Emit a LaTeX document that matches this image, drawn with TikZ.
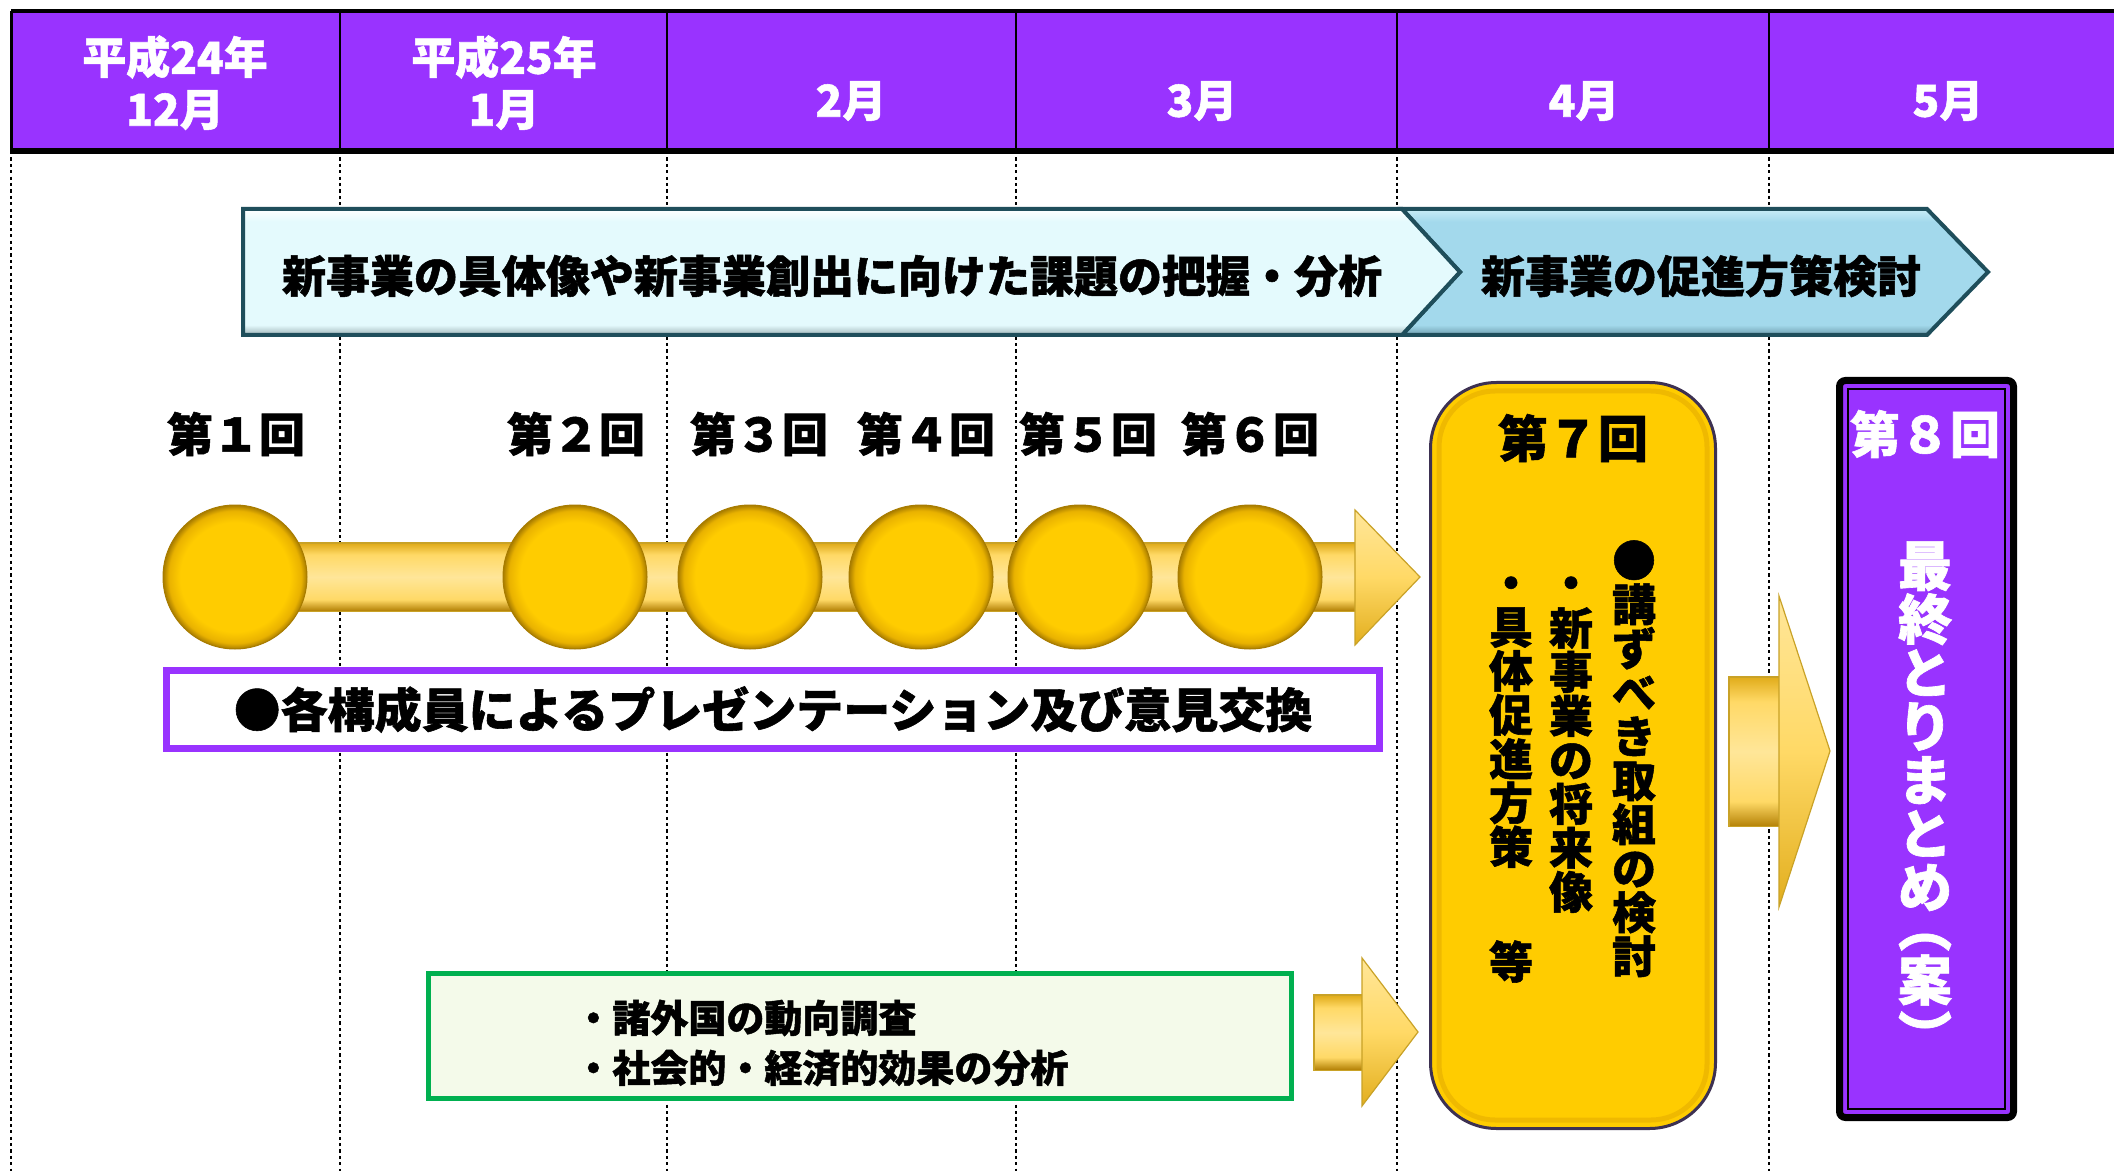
\documentclass[tikz,border=0pt]{standalone}
\usepackage{fontspec}
\setmainfont{Noto Sans CJK JP}[BoldFeatures={FakeBold=1.2}]
\usetikzlibrary{calc}
\definecolor{hpurple}{HTML}{9933FF}
\definecolor{chevA}{HTML}{E4FAFD}
\definecolor{chevAd}{HTML}{9FB4B8}
\definecolor{chevB}{HTML}{A3D9EC}
\definecolor{chevBd}{HTML}{6E9DAD}
\definecolor{chevBl}{HTML}{C9EDF7}
\definecolor{chevE}{HTML}{1F4E5B}
\definecolor{coinY}{HTML}{FFCC00}
\definecolor{coinR}{HTML}{E9B200}
\definecolor{coinD}{HTML}{A87C00}
\definecolor{arrT}{HTML}{E2AE1E}
\definecolor{arrL}{HTML}{FFE699}
\definecolor{arrM}{HTML}{FFD966}
\definecolor{arrB}{HTML}{B8860B}
\definecolor{arrE}{HTML}{C9A227}
\definecolor{boxSeven}{HTML}{FFCC00}
\definecolor{boxSevenE}{HTML}{3D3152}
\definecolor{gboxE}{HTML}{00B050}
\definecolor{gboxF}{HTML}{F4FAEA}
\pgfdeclareradialshading{coinshade}{\pgfpoint{0bp}{0bp}}{color(0bp)=(coinY); color(19bp)=(coinY); color(23bp)=(coinR); color(25bp)=(coinD); color(50bp)=(coinD)}
\pgfdeclareverticalshading{goldv}{100bp}{color(0bp)=(arrB); color(25bp)=(arrB); color(33bp)=(arrM); color(50bp)=(arrL); color(67bp)=(arrM); color(75bp)=(arrT); color(100bp)=(arrT)}
\pgfdeclareverticalshading{goldhead}{100bp}{color(0bp)=(arrT); color(25bp)=(arrT); color(50bp)=(arrM); color(75bp)=(arrL); color(100bp)=(arrL)}
\pgfdeclareverticalshading{chevAsh}{100bp}{color(0bp)=(chevAd); color(25bp)=(chevAd); color(29bp)=(chevA); color(70bp)=(chevA); color(75bp)=(white); color(100bp)=(white)}
\pgfdeclareverticalshading{chevBsh}{100bp}{color(0bp)=(chevBd); color(25bp)=(chevBd); color(29bp)=(chevB); color(70bp)=(chevB); color(75bp)=(chevBl); color(100bp)=(chevBl)}
\tikzset{
  hdr/.style={text=white, font=\bfseries\fontsize{22}{26}\selectfont, inner sep=0pt},
  dotline/.style={line width=0.8pt, dash pattern=on 1.6pt off 1.6pt},
  chevone/.style={shading=chevAsh, draw=chevE, line width=2pt, line join=miter},
  chevtwo/.style={shading=chevBsh, draw=chevE, line width=2pt, line join=miter},
  chevtxt/.style={font=\bfseries\fontsize{22}{26}\selectfont, inner sep=0pt},
  lbl/.style={font=\bfseries\fontsize{23}{27}\selectfont, inner sep=0pt},
  coin/.style={circle, minimum size=72pt, inner sep=0pt, shading=coinshade, draw=coinD, line width=0.5pt},
  goldarrow/.style={fill=arrM, draw=arrE, line width=0.6pt, line join=miter},
  goldshaft/.style={shading=goldv},
  goldtip/.style={shading=goldhead, draw=arrE, line width=0.6pt, line join=miter},
  pbox/.style={draw=hpurple, line width=3.5pt, fill=white, minimum width=606.5pt, minimum height=39pt, inner sep=0pt, font=\bfseries\fontsize{23.5}{28}\selectfont},
  gbox/.style={draw=gboxE, line width=2.5pt, fill=gboxF, minimum width=431.5pt, minimum height=62.5pt, inner sep=0pt},
  gtxt/.style={align=left, font=\bfseries\fontsize{19}{25}\selectfont, inner sep=0pt},
  sevenbox/.style={rectangle, rounded corners=33pt, minimum width=142.5pt, minimum height=373pt, fill=boxSeven, draw=boxSevenE, line width=1.5pt},
  ttl/.style={font=\bfseries\fontsize{25}{30}\selectfont, inner sep=0pt},
  vseven/.style={font=\bfseries\fontsize{22}{22}\selectfont, align=center, inner sep=0pt},
  eightbox/.style={rectangle, rounded corners=3pt, draw=black, line width=3.5pt, fill=hpurple, minimum width=87pt, minimum height=368.5pt},
  veight/.style={text=white, font=\bfseries\fontsize{27}{26.8}\selectfont, align=center, inner sep=0pt}
}
\begin{document}
\begin{tikzpicture}[x=0.5pt,y=-0.5pt]
\useasboundingbox (0,0) rectangle (2114,1171);
\fill[white] (0,0) rectangle (2114,1171);
% dotted month separators
\foreach \xx in {11,340,667,1016,1397,1769} \draw[dotline] (\xx,151) -- (\xx,1171);
% header
\fill[hpurple] (11,11) rectangle (2114,151);
\foreach \xx in {340,667,1016,1397,1769} \draw[line width=1.2pt] (\xx,11) -- (\xx,151);
\draw[line width=2.2pt] (11,11) -- (2114,11);
\draw[line width=3pt] (11,151) -- (2114,151);
\draw[line width=1.5pt] (11,11) -- (11,151);
\node[hdr] (h1a) at (175,57) {平成24年};
\node[hdr] (h1b) at (175,110) {12月};
\node[hdr] (h2a) at (504,57) {平成25年};
\node[hdr] (h2b) at (504,110) {1月};
\node[hdr] (h3) at (851,101) {2月};
\node[hdr] (h4) at (1202,101) {3月};
\node[hdr] (h5) at (1584,101) {4月};
\node[hdr] (h6) at (1948,101) {5月};
% phase chevrons
\path[chevtwo] (1402,209) -- (1927,209) -- (1988,272) -- (1927,335) -- (1402,335) -- (1460,272) -- cycle;
\path[chevone] (243,209) -- (1402,209) -- (1460,272) -- (1402,335) -- (243,335) -- cycle;
\node[chevtxt] (t1) at (832,276) {新事業の具体像や新事業創出に向けた課題の把握・分析};
\node[chevtxt] (t2) at (1701,276) {新事業の促進方策検討};
% meeting labels
\node[lbl] (l1) at (236,434) {第１回};
\node[lbl] (l2) at (576,434) {第２回};
\node[lbl] (l3) at (759,434) {第３回};
\node[lbl] (l4) at (926,434) {第４回};
\node[lbl] (l5) at (1088,434) {第５回};
\node[lbl] (l6) at (1250,434) {第６回};
% timeline arrow
\path[goldarrow] (240,543) -- (1355,543) -- (1355,611) -- (240,611) -- cycle;
\path[goldshaft] (241,544) rectangle (1356,610);
\path[goldtip] (1355,510) -- (1420,577) -- (1355,645) -- cycle;
% coins
\node[coin] (k1) at (235,577) {};
\node[coin] (k2) at (575,577) {};
\node[coin] (k3) at (750,577) {};
\node[coin] (k4) at (921,577) {};
\node[coin] (k5) at (1080,577) {};
\node[coin] (k6) at (1250,577) {};
% purple box
\node[pbox] (pb) at (773,709.5) {●各構成員によるプレゼンテーション及び意見交換};
% green box
\node[gbox] (gb) at (860,1036) {};
\node[gtxt, anchor=west] (gt) at (574,1043) {・諸外国の動向調査\\・社会的・経済的効果の分析};
\path[goldarrow] (1314,995) -- (1362,995) -- (1362,1070) -- (1314,1070) -- cycle;
\path[goldshaft] (1315,996) rectangle (1363,1069);
\path[goldtip] (1362,958) -- (1418,1032) -- (1362,1106) -- cycle;
% 7th meeting
\node[sevenbox] (b7) at (1573,755.5) {};
\draw[coinR, line width=2.5pt, rounded corners=28pt, opacity=0.7] (1439,391) rectangle (1707,1120);
\node[ttl] (t7) at (1573,438) {第７回};
\node[vseven, anchor=north] (v1) at (1634,540) {●\\講\\ず\\べ\\き\\取\\組\\の\\検\\討};
\node[vseven] (d2) at (1571,588) {・};
\node[vseven, anchor=north] (v2) at (1571,607) {新\\事\\業\\の\\将\\来\\像};
\node[vseven] (d3) at (1511,588) {・};
\node[vseven, anchor=north] (v3) at (1511,607) {具\\体\\促\\進\\方\\策};
\node[vseven, anchor=north] (v3b) at (1511,940) {等};
% arrow to 8th
\path[goldarrow] (1729,677) -- (1779,677) -- (1779,826) -- (1729,826) -- cycle;
\path[goldshaft] (1730,678) rectangle (1780,825);
\path[goldtip] (1779,596) -- (1830,751) -- (1779,907) -- cycle;
% 8th meeting
\node[eightbox] (b8) at (1926.5,749) {};
\draw[line width=1pt] (1848,389) rectangle (2005,1109);
\node[ttl, text=white] (t8) at (1925,434) {第８回};
\node[veight, anchor=north] (v8) at (1925,541) {最\\終\\と\\り\\ま\\と\\め};
\node[veight, rotate=-90] (p1) at (1925,926) {（};
\node[veight] (an) at (1925,980) {案};
\node[veight, rotate=-90] (p2) at (1925,1036) {）};
\end{tikzpicture}
\end{document}
